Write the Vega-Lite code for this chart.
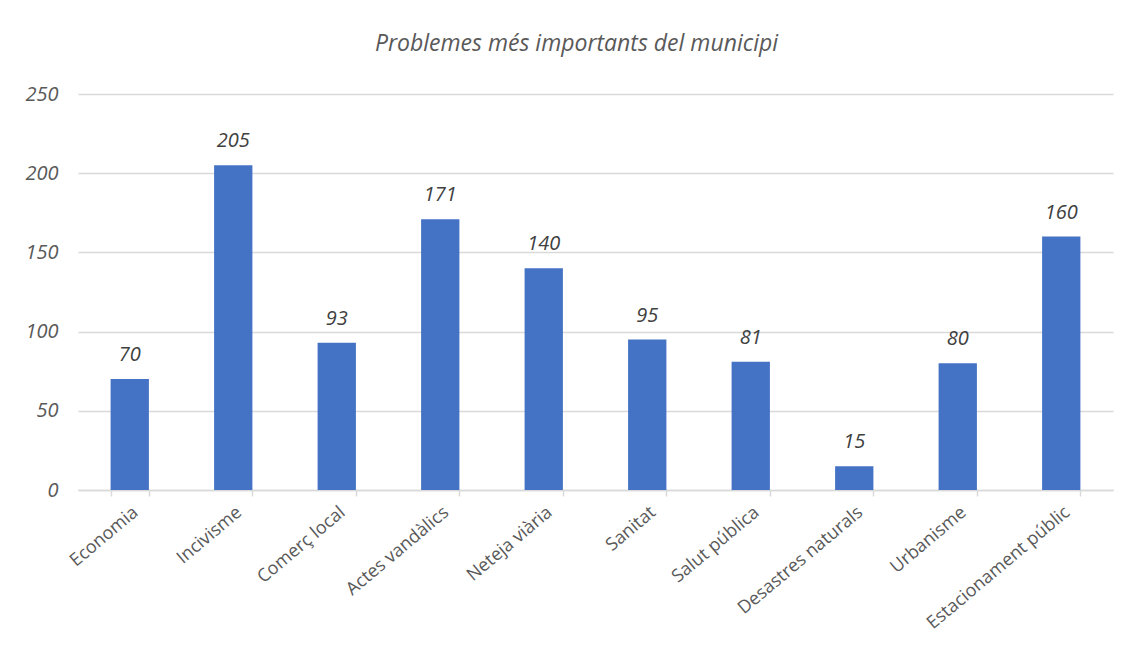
{
  "$schema": "https://vega.github.io/schema/vega-lite/v6.json",
  "autosize": "none",
  "width": 1035,
  "height": 396,
  "padding": {"left": 78, "top": 94, "right": 21, "bottom": 173},
  "background": "white",
  "title": {
    "text": "Problemes més importants del municipi",
    "font": "Open Sans",
    "fontSize": 23,
    "fontStyle": "italic",
    "fontWeight": "normal",
    "color": "#595959",
    "anchor": "middle",
    "dx": -19,
    "offset": 28
  },
  "data": {
    "values": [
      {"cat": "Economia", "v": 70},
      {"cat": "Incivisme", "v": 205},
      {"cat": "Comerç local", "v": 93},
      {"cat": "Actes vandàlics", "v": 171},
      {"cat": "Neteja viària", "v": 140},
      {"cat": "Sanitat", "v": 95},
      {"cat": "Salut pública", "v": 81},
      {"cat": "Desastres naturals", "v": 15},
      {"cat": "Urbanisme", "v": 80},
      {"cat": "Estacionament públic", "v": 160}
    ]
  },
  "encoding": {
    "x": {
      "field": "cat",
      "type": "nominal",
      "sort": null,
      "scale": {"paddingInner": 0.63, "paddingOuter": 0.315},
      "axis": {
        "title": null,
        "labelAngle": -40,
        "labelFont": "Open Sans",
        "labelFontSize": 18,
        "labelColor": "#595959",
        "labelPadding": 7,
        "labelLimit": 400,
        "domainColor": "#d9d9d9",
        "domainWidth": 1.5,
        "tickColor": "#d9d9d9",
        "tickWidth": 1.5,
        "tickSize": 6,
        "tickBand": "extent",
        "grid": false
      }
    },
    "y": {
      "field": "v",
      "type": "quantitative",
      "scale": {"domain": [0, 250], "nice": false},
      "axis": {
        "title": null,
        "values": [0, 50, 100, 150, 200, 250],
        "labelFont": "Open Sans",
        "labelFontSize": 20,
        "labelFontStyle": "italic",
        "labelColor": "#595959",
        "labelPadding": 20,
        "ticks": false,
        "domain": false,
        "gridColor": "#d9d9d9",
        "gridWidth": 1.5
      }
    }
  },
  "layer": [
    {"mark": {"type": "bar", "color": "#4472C4"}},
    {
      "mark": {
        "type": "text",
        "baseline": "bottom",
        "dy": -14,
        "font": "Open Sans",
        "fontSize": 20,
        "fontStyle": "italic",
        "color": "#404040"
      },
      "encoding": {"text": {"field": "v", "type": "quantitative"}}
    }
  ],
  "config": {"view": {"stroke": null}}
}
